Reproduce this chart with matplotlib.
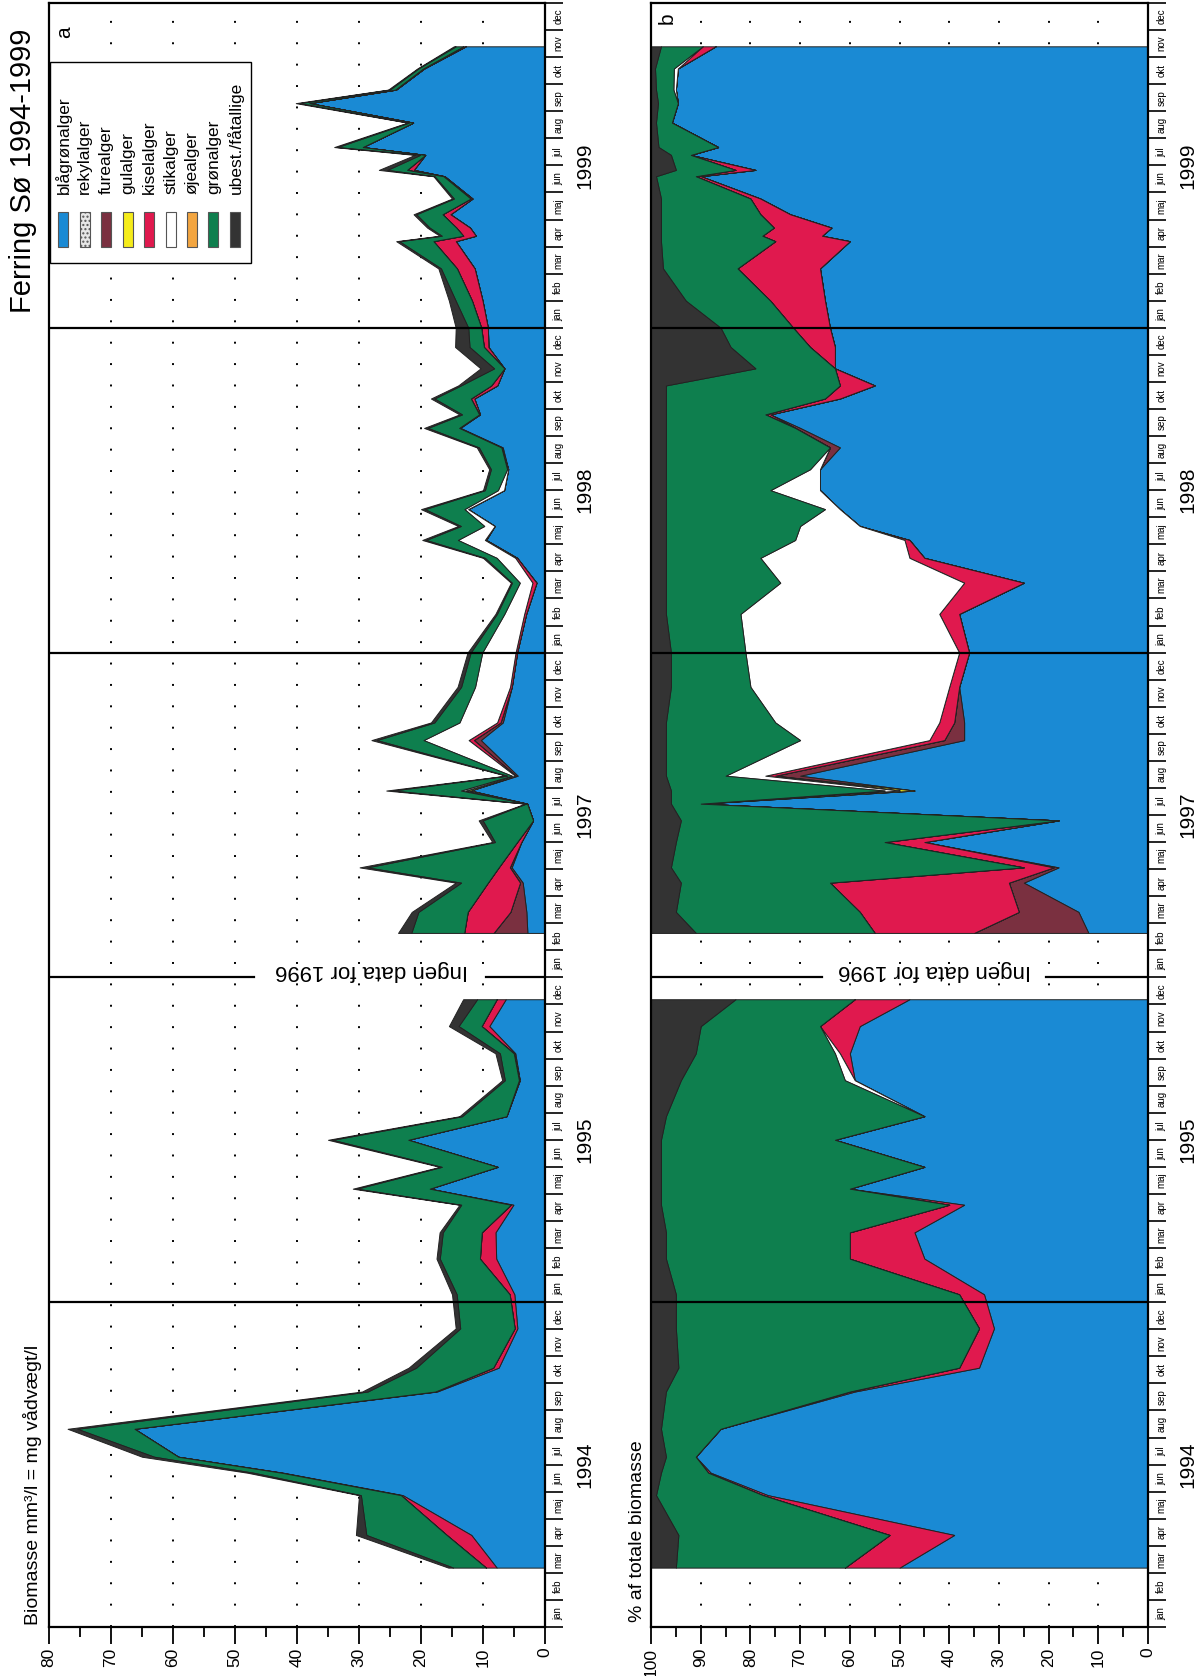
import calendar
import matplotlib
matplotlib.use('Agg')
import matplotlib.pyplot as plt
from matplotlib.patches import Rectangle
from matplotlib.transforms import blended_transform_factory
import numpy as np

plt.rcParams['font.family'] = ['Liberation Sans', 'DejaVu Sans']

groups = ['blågrønalger', 'rekylalger', 'furealger', 'gulalger', 'kiselalger',
          'stikalger', 'øjealger', 'grønalger', 'ubest./fåtallige']
colors = ['#1a8ad4', '#e6e6e6', '#7a3040', '#f5ec1a', '#e0194e',
          '#ffffff', '#f2a540', '#0e7f4e', '#333333']
months = ['jan', 'feb', 'mar', 'apr', 'maj', 'jun', 'jul', 'aug', 'sep', 'okt', 'nov', 'dec']
years = [1994, 1995, 1997, 1998, 1999]

# total biomass (mg/l) and share of each group (% of total) per sample
dates_1994 = ['1994-03-07', '1994-04-13', '1994-05-28', '1994-06-22', '1994-07-10',
              '1994-08-11', '1994-09-22', '1994-10-19', '1994-12-02']
total_1994 = [15.6, 30.5, 30, 48, 65, 77, 29.5, 22, 14.4]
blaa_1994 = [50, 39, 76.5, 88, 91, 86, 59, 34, 31]
kisel_1994 = [11, 13, 1, 0.5, 0, 0, 1, 4, 3]
groen_1994 = [34, 42.5, 21.5, 9.5, 6, 12, 37, 56.5, 61]
ubest_1994 = [5, 5.5, 1, 2, 3, 2, 3, 5.5, 5]

dates_1995 = ['1995-01-10', '1995-02-18', '1995-03-19', '1995-04-19', '1995-05-07',
              '1995-06-01', '1995-07-01', '1995-07-28', '1995-09-07', '1995-10-07',
              '1995-11-07', '1995-12-07']
total_1995 = [15, 17.5, 17, 13.8, 31, 17, 35, 13.8, 6.9, 8, 15.5, 13.2]
blaa_1995 = [33, 45, 47, 37, 60, 45, 63, 45, 59, 60, 58, 48]
kisel_1995 = [5, 15, 13, 3, 0, 0, 0, 0, 0, 2, 8, 11]
stik_1995 = [0, 0, 0, 0, 0, 0, 0, 0, 2, 1, 0, 0]
groen_1995 = [57, 37, 37, 58, 38, 53, 35, 52, 33, 28, 24, 24]
ubest_1995 = [5, 3, 3, 2, 2, 2, 2, 3, 6, 9, 10, 17]

dates_1997 = ['1997-02-19', '1997-03-14', '1997-04-16', '1997-05-03', '1997-06-01',
              '1997-06-25', '1997-07-14', '1997-07-29', '1997-08-15', '1997-09-24',
              '1997-10-14', '1997-11-23']
total_1997 = [23.7, 21.5, 14.4, 29.9, 8.5, 10.7, 3.2, 25.6, 6.3, 28, 18.4, 14.1]
blaa_1997 = [12, 14, 25, 18, 45, 18, 90, 47, 70, 37, 37, 38]
fure_1997 = [23, 12, 3, 1, 0, 0, 0, 0, 5, 4, 2, 0]
gul_1997 = [0, 0, 0, 0, 0, 0, 0, 3, 0, 0, 0, 0]
kisel_1997 = [20, 32, 36, 6, 8, 0, 0, 0, 2, 3, 3, 2]
stik_1997 = [0, 0, 0, 0, 0, 0, 0, 3, 8, 26, 33, 40]
groen_1997 = [36, 37, 30, 71, 42, 76, 6, 43, 12, 27, 22, 16]
ubest_1997 = [9, 5, 6, 4, 5, 6, 4, 4, 3, 3, 3, 4]

dates_1998 = ['1998-01-01', '1998-02-13', '1998-03-19', '1998-04-16', '1998-05-06',
              '1998-05-22', '1998-06-10', '1998-07-01', '1998-07-25', '1998-08-19',
              '1998-09-10', '1998-09-25', '1998-10-13', '1998-10-28', '1998-11-16',
              '1998-12-10']
total_1998 = [12.5, 8, 5.5, 10, 19.8, 14, 20, 10, 9, 11, 19.5, 13.8, 18.4, 14, 10.4, 14.5]
blaa_1998 = [36, 38, 25, 45, 48, 58, 62, 66, 66, 62, 70, 76, 62, 55, 63, 63]
fure_1998 = [0, 0, 0, 0, 0, 0, 0, 0, 0, 2, 1, 0, 0, 0, 0, 0]
kisel_1998 = [2, 4, 12, 3, 1, 0, 0, 0, 0, 0, 0, 1, 3, 7, 0, 5]
stik_1998 = [43, 40, 37, 30, 22, 12, 3, 10, 2, 0, 0, 0, 0, 0, 0, 0]
groen_1998 = [15, 15, 23, 19, 26, 27, 32, 21, 29, 33, 26, 20, 32, 35, 16, 16]
ubest_1998 = [4, 3, 3, 3, 3, 3, 3, 3, 3, 3, 3, 3, 3, 3, 21, 16]

dates_1999 = ['1999-01-01', '1999-02-01', '1999-03-07', '1999-04-07', '1999-04-13',
              '1999-04-22', '1999-05-07', '1999-05-25', '1999-06-19', '1999-06-26',
              '1999-07-13', '1999-07-22', '1999-08-19', '1999-09-10', '1999-09-25',
              '1999-10-19', '1999-11-13']
total_1999 = [14.4, 15.5, 17.2, 24, 17, 19, 21.2, 15, 18, 26.8, 21, 34, 22.2, 40.2,
              25.3, 20.6, 14.7]
blaa_1999 = [64, 65, 66, 60, 65.6, 63.7, 72, 78, 90, 79, 92, 86.5, 95.8, 94.6, 95,
             94.6, 87]
kisel_1999 = [7.4, 11, 16.6, 15, 12, 11.6, 6, 2, 1, 4, 0, 0, 0, 0, 0, 0, 2.6]
stik_1999 = [0, 0, 0, 0, 0, 0, 0, 0, 0, 0, 0, 0, 0, 0, 0.5, 0.8, 0]
groen_1999 = [14.6, 17, 15, 23, 20.4, 22.7, 20, 18, 8, 12, 4, 12, 3.2, 4, 3.5, 3.8, 8.4]
ubest_1999 = [14, 7, 2.4, 2, 2, 2, 2, 2, 1, 5, 4, 1.5, 1, 1.4, 1, 0.8, 2]

yearly = {
    1994: (dates_1994, total_1994, {'blågrønalger': blaa_1994, 'kiselalger': kisel_1994,
                                    'grønalger': groen_1994, 'ubest./fåtallige': ubest_1994}),
    1995: (dates_1995, total_1995, {'blågrønalger': blaa_1995, 'kiselalger': kisel_1995,
                                    'stikalger': stik_1995, 'grønalger': groen_1995,
                                    'ubest./fåtallige': ubest_1995}),
    1997: (dates_1997, total_1997, {'blågrønalger': blaa_1997, 'furealger': fure_1997,
                                    'gulalger': gul_1997, 'kiselalger': kisel_1997,
                                    'stikalger': stik_1997, 'grønalger': groen_1997,
                                    'ubest./fåtallige': ubest_1997}),
    1998: (dates_1998, total_1998, {'blågrønalger': blaa_1998, 'furealger': fure_1998,
                                    'kiselalger': kisel_1998, 'stikalger': stik_1998,
                                    'grønalger': groen_1998, 'ubest./fåtallige': ubest_1998}),
    1999: (dates_1999, total_1999, {'blågrønalger': blaa_1999, 'kiselalger': kisel_1999,
                                    'stikalger': stik_1999, 'grønalger': groen_1999,
                                    'ubest./fåtallige': ubest_1999}),
}
# continuous runs of sampling (nothing measured in 1996)
runs = [[1994, 1995], [1997, 1998, 1999]]


def month_pos(d):
    y, m, dd = map(int, d.split('-'))
    return years.index(y) * 12 + m - 1 + (dd - 1) / calendar.monthrange(y, m)[1]


def run_data(run):
    t, tot, shares = [], [], [[] for _ in groups]
    for yr in run:
        dates, total, parts = yearly[yr]
        t += [month_pos(d) for d in dates]
        tot += total
        for k, g in enumerate(groups):
            shares[k] += parts.get(g, [0] * len(dates))
    sh = np.array(shares, dtype=float)
    sh = sh / sh.sum(axis=0) * 100
    return np.array(t), np.array(tot), sh


W, H = 1200, 1676
fig = plt.figure(figsize=(W / 100, H / 100), dpi=100)


def fx(x):
    return x / W


def fy(y):
    return 1 - y / H


ax_a = fig.add_axes([fx(49), fy(1627), 496 / W, 1624 / H])
ax_b = fig.add_axes([fx(651), fy(1627), 497 / W, 1624 / H])

for ax, vmax, ingen_c, ingen_gap in [(ax_a, 80, 28, (47, 9.5)), (ax_b, 100, 43, (65.5, 20.5))]:
    ax.set_xlim(vmax, 0)
    ax.set_ylim(0, 60)
    for v in range(10, vmax, 10):
        ax.axvline(v, color='k', ls=(0, (1, 10)), lw=1.4, zorder=0)

    for run in runs:
        t, tot, sh = run_data(run)
        vals = sh * tot / 100 if ax is ax_a else sh
        cum = np.zeros(len(t))
        for k in range(len(groups)):
            if vals[k].max() == 0:
                continue
            ax.fill_betweenx(t, cum, cum + vals[k], facecolor=colors[k],
                             edgecolor='#222222', lw=0.7, zorder=2)
            cum = cum + vals[k]

    # year separators
    for yr in [12, 36, 48]:
        ax.axhline(yr, color='k', lw=1.6, zorder=3)
    ax.plot([vmax, ingen_gap[0]], [24, 24], color='k', lw=1.6, zorder=3)
    ax.plot([ingen_gap[1], 0], [24, 24], color='k', lw=1.6, zorder=3)
    ax.text(ingen_c, 24.25, 'Ingen data for 1996', rotation=180, ha='center',
            va='center', fontsize=16, zorder=4)

    # value axis at the bottom
    ax.set_xticks(range(0, vmax + 1, 10))
    ax.set_xticks(range(5, vmax, 10), minor=True)
    ax.tick_params(axis='x', which='major', length=12, width=1.3, labelsize=12.5,
                   labelrotation=90, pad=3)
    ax.tick_params(axis='x', which='minor', length=7, width=1.3)

    # time axis on the right
    ax.yaxis.tick_right()
    ax.set_yticks(range(0, 61))
    ax.set_yticklabels([])
    ax.set_yticks(np.arange(0.5, 60, 1), minor=True)
    ax.set_yticklabels(months * 5, minor=True)
    ax.tick_params(axis='y', which='major', length=13, width=1.2, direction='out')
    ax.tick_params(axis='y', which='minor', length=0, labelsize=7, labelrotation=90, pad=6)
    for lab in ax.get_yticklabels(minor=True):
        lab.set_verticalalignment('center')

    trans = blended_transform_factory(ax.transAxes, ax.transData)
    for i, yr in enumerate(years):
        ax.text(1.08, i * 12 + 6, str(yr), transform=trans, rotation=90,
                ha='center', va='center', fontsize=15)

    for sp in ax.spines.values():
        sp.set_linewidth(1.6)

# legend box in panel a
fig.add_artist(Rectangle((fx(50), fy(263)), 201 / W, 201 / H, transform=fig.transFigure,
                         facecolor='white', edgecolor='k', lw=1.0, zorder=5))
for i, (g, c) in enumerate(zip(groups, colors)):
    xc = 63 + i * 21.5
    fig.add_artist(Rectangle((fx(xc - 5), fy(247)), 10 / W, 35 / H,
                             transform=fig.transFigure, facecolor=c,
                             edgecolor='#555555', lw=0.8, zorder=6,
                             hatch='....' if g == 'rekylalger' else None))
    fig.text(fx(xc), fy(194), g, rotation=90, ha='center', va='bottom',
             fontsize=12.5, zorder=6)

fig.text(fx(23), fy(313), 'Ferring Sø 1994-1999', rotation=90, ha='center',
         va='bottom', fontsize=21)
fig.text(fx(65), fy(32), 'a', rotation=90, ha='center', va='center', fontsize=15)
fig.text(fx(667), fy(18), 'b', rotation=90, ha='center', va='center', fontsize=15)
fig.text(fx(33), fy(1625), 'Biomasse mm³/l = mg vådvægt/l', rotation=90,
         ha='center', va='bottom', fontsize=14)
fig.text(fx(637), fy(1622), '% af totale biomasse', rotation=90,
         ha='center', va='bottom', fontsize=14)

fig.savefig('out.png', dpi=100)
